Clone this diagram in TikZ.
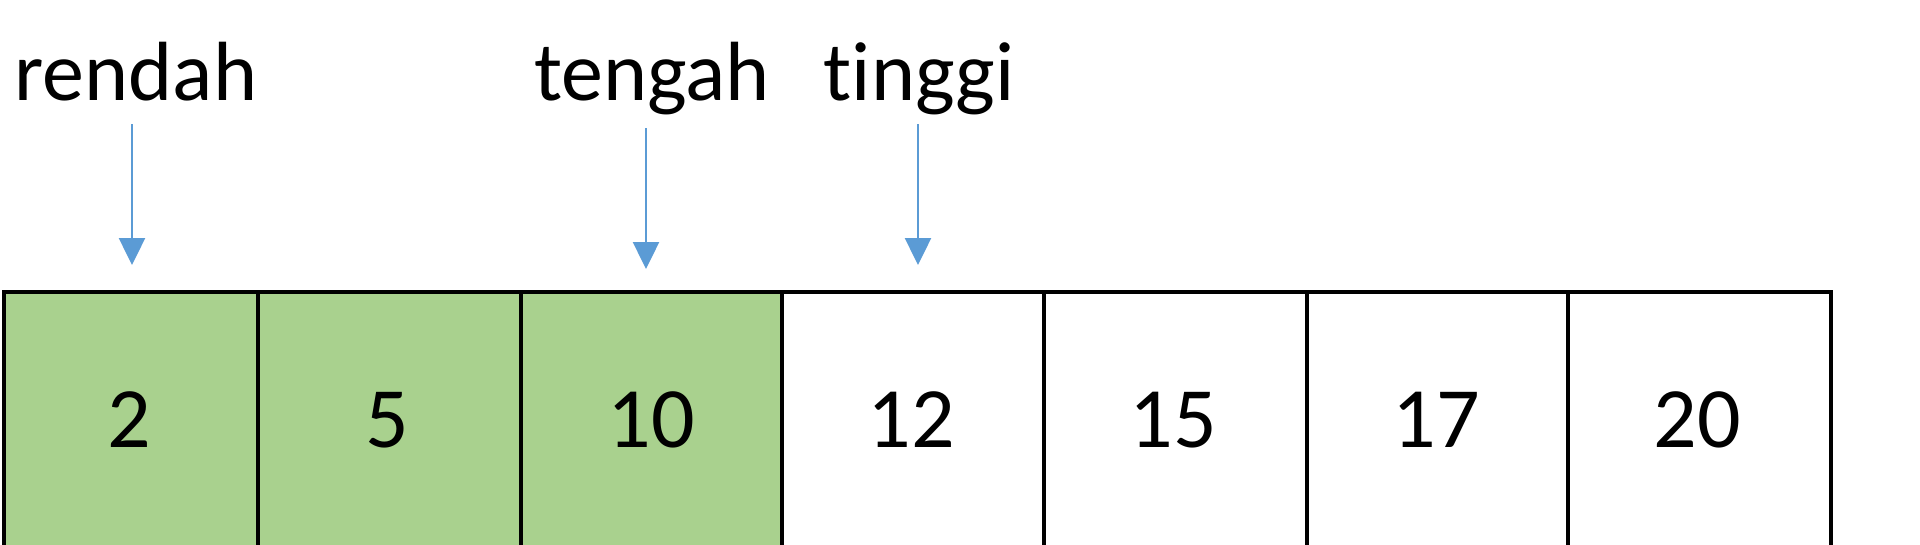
\documentclass[tikz,border=0pt]{standalone}
\usepackage{fontspec}
\setmainfont{Carlito}[Ligatures={NoCommon}]
\usetikzlibrary{arrows.meta}
\definecolor{cellgreen}{HTML}{A9D18E}
\definecolor{ptrblue}{HTML}{5B9BD5}
\tikzset{
  cellbox/.style={draw=black, line width=4pt, rectangle, inner sep=0pt, anchor=north west},
  greencell/.style={cellbox, fill=cellgreen},
  whitecell/.style={cellbox, fill=white},
  numlabel/.style={inner sep=0pt, font=\fontsize{86}{100}\selectfont},
  ptrlabel/.style={inner sep=0pt, anchor=base, font=\fontsize{84}{100}\selectfont},
  ptrarrow/.style={draw=ptrblue, line width=2.5pt, -{Triangle[width=26pt,length=27pt]}}
}
\begin{document}
\begin{tikzpicture}[x=1pt,y=-1pt]
\useasboundingbox (0,0) rectangle (1920,544);
\clip (0,0) rectangle (1920,544);
\fill[white] (0,0) rectangle (1920,544);
% cells
\node[greencell, minimum width=254pt, minimum height=320pt] (c1) at (2,290) {};
\node[greencell, minimum width=263pt, minimum height=320pt] (c2) at (256,290) {};
\node[greencell, minimum width=261pt, minimum height=320pt] (c3) at (519,290) {};
\node[whitecell, minimum width=262pt, minimum height=320pt] (c4) at (780,290) {};
\node[whitecell, minimum width=263pt, minimum height=320pt] (c5) at (1042,290) {};
\node[whitecell, minimum width=261pt, minimum height=320pt] (c6) at (1305,290) {};
\node[whitecell, minimum width=263pt, minimum height=320pt] (c7) at (1566,290) {};
% numbers
\node[numlabel] (n1) at (129,420) {2};
\node[numlabel] (n2) at (387,420) {5};
\node[numlabel] (n3) at (651,420) {10};
\node[numlabel] (n4) at (911,420) {12};
\node[numlabel] (n5) at (1173,420) {15};
\node[numlabel] (n6) at (1436,420) {17};
\node[numlabel] (n7) at (1697,420) {20};
% pointer labels
\node[ptrlabel] (rendah) at (136,100) {rendah};
\node[ptrlabel] (tengah) at (652,100) {tengah};
\node[ptrlabel] (tinggi) at (919,100) {tinggi};
% arrow end points
\coordinate (rs) at (132,124);
\coordinate (re) at (132,265);
\coordinate (ts) at (646,128);
\coordinate (te) at (646,269);
\coordinate (gs) at (918,124);
\coordinate (ge) at (918,265);
\draw[ptrarrow] (rs) -- (re);
\draw[ptrarrow] (ts) -- (te);
\draw[ptrarrow] (gs) -- (ge);
\end{tikzpicture}
\end{document}
